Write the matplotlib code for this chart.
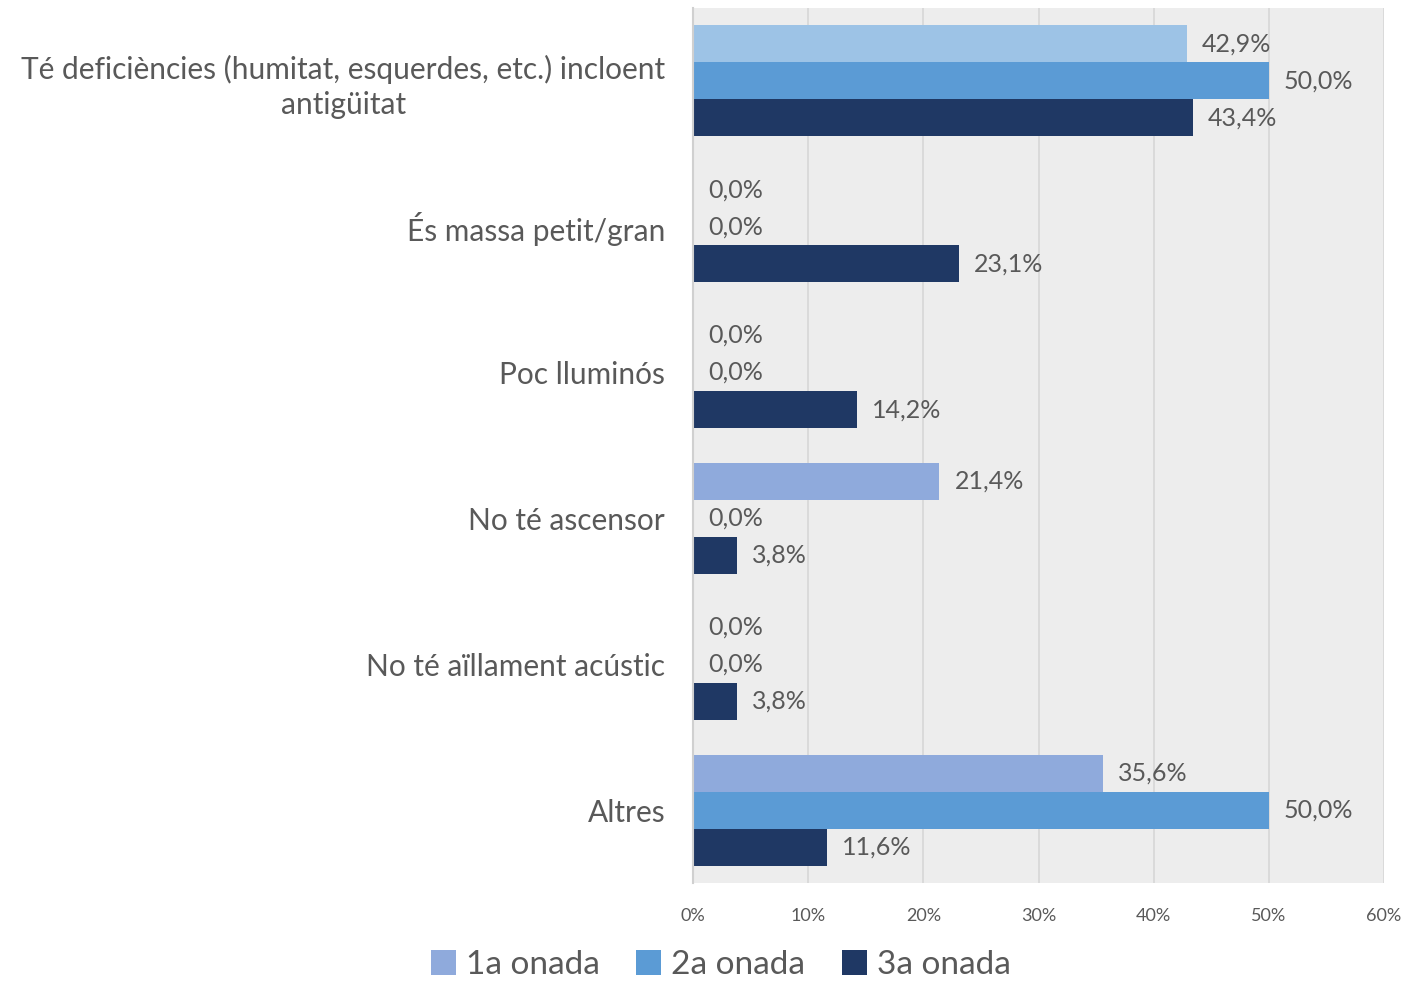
import matplotlib.pyplot as plt
from matplotlib.patches import Patch
import numpy as np

# categories, top to bottom
categories = ['Té deficiències (humitat, esquerdes, etc.) incloent\nantigüitat',
              'És massa petit/gran',
              'Poc lluminós',
              'No té ascensor',
              'No té aïllament acústic',
              'Altres']
series_names = ['1a onada', '2a onada', '3a onada']
onada1 = [42.9, 0.0, 0.0, 21.4, 0.0, 35.6]
onada2 = [50.0, 0.0, 0.0, 0.0, 0.0, 50.0]
onada3 = [43.4, 23.1, 14.2, 3.8, 3.8, 11.6]
xticks = [0, 10, 20, 30, 40, 50, 60]

colors = ['#8FAADC', '#5B9BD5', '#1F3864']
first_bar_color = '#9DC3E6'
text_col = '#595959'

plt.rcParams['font.family'] = ['Lato', 'DejaVu Sans']

fig = plt.figure(figsize=(14.04, 9.83), dpi=100)
ax = fig.add_axes([0.4936, 0.1017, 0.4922, 0.8902])
ax.set_facecolor('#EDEDED')

n = len(categories)
pos = np.arange(n)
h = 0.254
data = [onada1, onada2, onada3]

for k, vals in enumerate(data):
    y = pos + (k - 1) * h
    cols = [colors[k]] * n
    if k == 0:
        cols[0] = first_bar_color
    ax.barh(y, vals, height=h, color=cols, zorder=3)
    for yy, v in zip(y, vals):
        ax.text(v + 1.3, yy, ('%.1f%%' % v).replace('.', ','), va='center', ha='left',
                fontsize=18, color=text_col, zorder=4)

ax.set_ylim(n - 0.5, -0.5)
ax.set_xlim(0, 60)
ax.set_xticks(xticks)
ax.set_xticklabels(['%d%%' % t for t in xticks], fontsize=13, color=text_col)
ax.set_yticks(pos)
ax.set_yticklabels(categories, fontsize=21.5, color=text_col, ha='right',
                   multialignment='center', linespacing=1.3)
ax.tick_params(axis='y', length=0, pad=20)
ax.tick_params(axis='x', length=0, pad=18)
ax.grid(axis='x', color='#D9D9D9', linewidth=1.3, zorder=0)
for s in ['top', 'right', 'bottom']:
    ax.spines[s].set_visible(False)
ax.spines['left'].set_color('#D0D0D0')
ax.spines['left'].set_linewidth(1.5)
ax.spines['left'].set_zorder(5)

handles = [Patch(facecolor=c) for c in colors]
fig.legend(handles, series_names, loc='center', bbox_to_anchor=(0.5135, 0.018), ncol=3,
           frameon=False, fontsize=24, handlelength=0.75, handleheight=0.75,
           handletextpad=0.3, columnspacing=1.1, labelcolor=text_col,
           borderpad=0.1)

fig.savefig('out.png', dpi=100)
